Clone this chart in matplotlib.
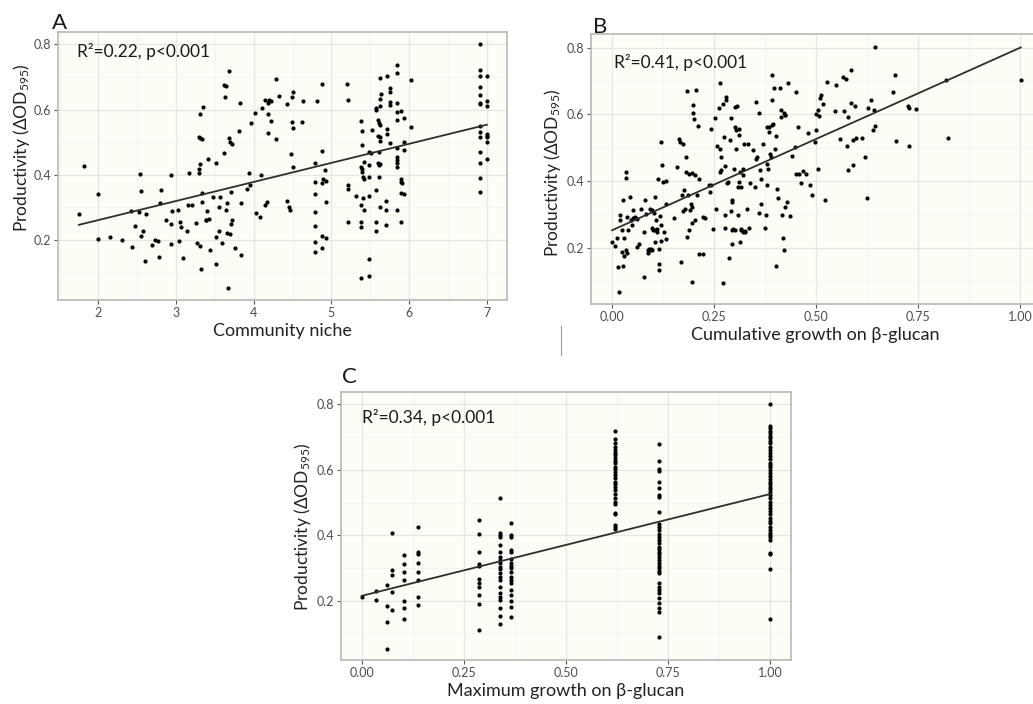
import matplotlib.pyplot as plt
from matplotlib.lines import Line2D
from matplotlib.ticker import MultipleLocator
import numpy as np

# ---- panel A: community niche vs productivity ----
niche_x = [1.75, 1.81, 2.0, 2.0, 2.15, 2.31, 2.43, 2.42, 2.47, 2.52, 2.54, 2.55, 2.55, 2.58, 2.6,
           2.61, 2.69, 2.73, 2.77, 2.78, 2.79, 2.81, 2.87, 2.93, 2.93, 2.94, 2.95, 3.03, 3.05, 3.04,
           3.06, 3.09, 3.14, 3.15, 3.17, 3.2, 3.26, 3.27, 3.29, 3.3, 3.31, 3.31, 3.3, 3.31, 3.33,
           3.35, 3.31, 3.32, 3.34, 3.34, 3.38, 3.39, 3.4, 3.42, 3.41, 3.44, 3.48, 3.51, 3.51, 3.51,
           3.55, 3.56, 3.55, 3.59, 3.62, 3.63, 3.62, 3.64, 3.64, 3.65, 3.66, 3.67, 3.68, 3.68, 3.69,
           3.7, 3.71, 3.71, 3.72, 3.72, 3.76, 3.81, 3.82, 3.83, 3.83, 3.91, 3.94, 3.95, 3.96, 4.01,
           4.03, 4.08, 4.1, 4.11, 4.15, 4.15, 4.17, 4.18, 4.18, 4.18, 4.2, 4.22, 4.22, 4.29, 4.29,
           4.33, 4.43, 4.43, 4.45, 4.47, 4.49, 4.5, 4.49, 4.5, 4.48, 4.5, 4.62, 4.64,
           4.79, 4.79, 4.79, 4.79, 4.79, 4.79, 4.79, 4.82, 4.88, 4.88, 4.88, 4.88, 4.88, 4.89,
           4.93, 4.93, 4.93, 4.92, 5.2, 5.21, 5.21, 5.21, 5.21, 5.31,
           5.38, 5.40, 5.40, 5.38, 5.39, 5.40, 5.41, 5.42, 5.42, 5.41, 5.38, 5.42, 5.38, 5.38,
           5.48, 5.48, 5.48, 5.49, 5.51, 5.48, 5.49, 5.38, 5.52, 5.58, 5.58, 5.60, 5.61, 5.62,
           5.63, 5.63, 5.64, 5.63, 5.60, 5.63, 5.62, 5.61, 5.60, 5.61, 5.63, 5.61, 5.58, 5.58,
           5.58, 5.62, 5.70, 5.70, 5.70, 5.71, 5.72, 5.72, 5.76, 5.76, 5.76, 5.76, 5.76,
           5.84, 5.84, 5.84, 5.85, 5.84, 5.85, 5.84, 5.84, 5.84, 5.84, 5.85, 5.89, 5.89, 5.90,
           5.91, 5.90, 5.93, 5.90, 5.93, 5.94, 5.94, 6.03, 6.03,
           6.91, 6.91, 6.91, 6.91, 6.91, 6.91, 6.91, 6.91, 6.91, 6.91, 6.91, 6.91, 6.91, 6.91,
           7.0, 7.0, 7.0, 7.0, 7.0, 7.0, 7.0, 7.0]
niche_y = [0.28, 0.427, 0.34, 0.202, 0.208, 0.2, 0.179, 0.288, 0.243, 0.285, 0.402, 0.351, 0.211, 0.226, 0.136,
           0.279, 0.184, 0.2, 0.198, 0.148, 0.312, 0.353, 0.261, 0.249, 0.187, 0.398, 0.288, 0.292, 0.254, 0.196,
           0.241, 0.144, 0.228, 0.308, 0.406, 0.306, 0.253, 0.19, 0.406, 0.418, 0.433, 0.585, 0.517, 0.513, 0.509,
           0.607, 0.18, 0.11, 0.344, 0.316, 0.262, 0.262, 0.29, 0.263, 0.447, 0.168, 0.331, 0.435, 0.209, 0.125,
           0.301, 0.332, 0.228, 0.19, 0.468, 0.64, 0.676, 0.672, 0.293, 0.22, 0.314, 0.053, 0.718, 0.512, 0.502,
           0.218, 0.248, 0.347, 0.495, 0.262, 0.176, 0.535, 0.619, 0.312, 0.154, 0.356, 0.406, 0.368, 0.559, 0.589,
           0.282, 0.27, 0.399, 0.606, 0.629, 0.308, 0.316, 0.585, 0.619, 0.527, 0.629, 0.565, 0.627, 0.509, 0.695,
           0.641, 0.616, 0.318, 0.3, 0.292, 0.64, 0.654, 0.563, 0.545, 0.464, 0.425, 0.563, 0.626,
           0.437, 0.378, 0.341, 0.287, 0.243, 0.193, 0.164, 0.626, 0.68, 0.473, 0.376, 0.212, 0.174, 0.386,
           0.38, 0.206, 0.316, 0.414, 0.68, 0.629, 0.369, 0.356, 0.254, 0.336,
           0.566, 0.535, 0.491, 0.425, 0.418, 0.409, 0.394, 0.387, 0.44, 0.330, 0.307, 0.292, 0.254, 0.241,
           0.430, 0.393, 0.334, 0.471, 0.466, 0.142, 0.089, 0.084, 0.538, 0.599, 0.604, 0.568, 0.560, 0.553,
           0.611, 0.634, 0.647, 0.696, 0.52, 0.517, 0.503, 0.471, 0.435, 0.43, 0.432, 0.394, 0.353, 0.254,
           0.227, 0.301, 0.292, 0.319, 0.247, 0.524, 0.541, 0.704, 0.667, 0.655, 0.624, 0.614, 0.498,
           0.737, 0.711, 0.621, 0.593, 0.568, 0.481, 0.455, 0.445, 0.435, 0.425, 0.292, 0.596, 0.379, 0.386,
           0.374, 0.345, 0.340, 0.254, 0.573, 0.501, 0.476, 0.691, 0.548,
           0.801, 0.72, 0.704, 0.668, 0.644, 0.621, 0.616, 0.551, 0.531, 0.517, 0.470, 0.437, 0.391, 0.346,
           0.704, 0.627, 0.611, 0.524, 0.520, 0.515, 0.501, 0.449]

# ---- panel B: cumulative growth on beta-glucan ----
cum_x = [0.0, 0.007, 0.011, 0.015, 0.016, 0.019, 0.019, 0.024, 0.025, 0.027, 0.028, 0.028, 0.027, 0.034,
         0.035, 0.035, 0.037, 0.037, 0.04, 0.045, 0.047, 0.049, 0.052, 0.052, 0.056, 0.06, 0.06, 0.065,
         0.072, 0.078, 0.078, 0.08, 0.084, 0.087, 0.088, 0.091, 0.092, 0.094, 0.096, 0.097, 0.098, 0.099,
         0.1, 0.103, 0.105, 0.105, 0.106, 0.107, 0.109, 0.11, 0.113, 0.115, 0.115, 0.115, 0.117, 0.119,
         0.12, 0.121, 0.122, 0.125, 0.127, 0.131, 0.133, 0.133, 0.152, 0.159, 0.164, 0.166, 0.168, 0.172,
         0.174, 0.174, 0.177, 0.178, 0.181, 0.182, 0.184, 0.184, 0.186, 0.188, 0.189, 0.191, 0.193, 0.195,
         0.195, 0.196, 0.197, 0.199, 0.199, 0.2, 0.203, 0.204, 0.206, 0.208, 0.21, 0.212, 0.214, 0.223,
         0.223, 0.229, 0.237, 0.24, 0.242, 0.243, 0.248, 0.252, 0.256, 0.258, 0.264, 0.264, 0.262, 0.264,
         0.266, 0.268, 0.271, 0.272, 0.274, 0.276, 0.277, 0.278, 0.279, 0.28, 0.282, 0.284, 0.287, 0.29,
         0.291, 0.291, 0.293, 0.293, 0.294, 0.295, 0.297, 0.299, 0.301, 0.301, 0.302, 0.303, 0.305, 0.307,
         0.309, 0.309, 0.31, 0.312, 0.312, 0.313, 0.313, 0.315, 0.316, 0.317, 0.32, 0.321, 0.322, 0.323,
         0.326, 0.327, 0.331, 0.334, 0.336, 0.338, 0.346, 0.35, 0.352, 0.354, 0.356, 0.36, 0.361, 0.362,
         0.364, 0.365, 0.369, 0.375, 0.377, 0.379, 0.381, 0.381, 0.383, 0.385, 0.385, 0.387, 0.389, 0.391,
         0.391, 0.392, 0.395, 0.397, 0.399, 0.401, 0.401, 0.405, 0.407, 0.411, 0.413, 0.414, 0.416, 0.418,
         0.421, 0.422, 0.424, 0.424, 0.425, 0.428, 0.432, 0.436, 0.442, 0.448, 0.452, 0.452, 0.456, 0.459,
         0.464, 0.469, 0.475, 0.481, 0.485, 0.489, 0.497, 0.5, 0.5, 0.504, 0.506, 0.508, 0.511, 0.513,
         0.518, 0.522, 0.526, 0.546, 0.548, 0.56, 0.567, 0.568, 0.573, 0.576, 0.579, 0.579, 0.585, 0.587,
         0.59, 0.591, 0.595, 0.598, 0.612, 0.619, 0.624, 0.628, 0.636, 0.639, 0.642, 0.644, 0.644, 0.689,
         0.693, 0.695, 0.726, 0.728, 0.728, 0.744, 0.818, 0.823, 1.002]
cum_y = [0.217, 0.204, 0.23, 0.142, 0.065, 0.282, 0.297, 0.252, 0.187, 0.342, 0.23, 0.174, 0.145, 0.192,
         0.427, 0.409, 0.292, 0.184, 0.252, 0.351, 0.284, 0.267, 0.314, 0.288, 0.292, 0.286, 0.202, 0.212,
         0.317, 0.112, 0.247, 0.344, 0.302, 0.194, 0.185, 0.196, 0.316, 0.192, 0.196, 0.259, 0.313, 0.194,
         0.254, 0.304, 0.351, 0.254, 0.217, 0.282, 0.257, 0.247, 0.405, 0.196, 0.152, 0.132, 0.294, 0.517,
         0.22, 0.267, 0.447, 0.397, 0.247, 0.4, 0.33, 0.225, 0.29, 0.442, 0.527, 0.517, 0.157, 0.357,
         0.512, 0.31, 0.372, 0.317, 0.472, 0.427, 0.671, 0.232, 0.357, 0.422, 0.254, 0.314, 0.332, 0.096,
         0.424, 0.274, 0.322, 0.605, 0.628, 0.586, 0.284, 0.417, 0.673, 0.357, 0.565, 0.407, 0.18, 0.182,
         0.292, 0.29, 0.387, 0.367, 0.557, 0.387, 0.257, 0.59, 0.317, 0.505, 0.693, 0.497, 0.618, 0.427,
         0.472, 0.432, 0.63, 0.092, 0.532, 0.259, 0.445, 0.297, 0.643, 0.653, 0.394, 0.397, 0.17, 0.522,
         0.588, 0.31, 0.344, 0.337, 0.212, 0.252, 0.257, 0.435, 0.562, 0.623, 0.254, 0.495, 0.552, 0.625,
         0.297, 0.382, 0.557, 0.537, 0.397, 0.217, 0.427, 0.252, 0.382, 0.257, 0.437, 0.417, 0.247, 0.512,
         0.25, 0.247, 0.317, 0.51, 0.259, 0.394, 0.492, 0.382, 0.467, 0.638, 0.472, 0.603, 0.304, 0.432,
         0.332, 0.405, 0.512, 0.259, 0.299, 0.452, 0.387, 0.562, 0.437, 0.547, 0.562, 0.482, 0.472, 0.718,
         0.643, 0.567, 0.572, 0.68, 0.497, 0.534, 0.144, 0.375, 0.35, 0.68, 0.612, 0.593, 0.297, 0.23,
         0.194, 0.604, 0.598, 0.322, 0.598, 0.337, 0.695, 0.294, 0.475, 0.502, 0.668, 0.42, 0.562, 0.422,
         0.394, 0.43, 0.42, 0.545, 0.389, 0.357, 0.517, 0.552, 0.6, 0.612, 0.437, 0.595, 0.648, 0.658,
         0.63, 0.344, 0.698, 0.61, 0.688, 0.525, 0.711, 0.61, 0.706, 0.505, 0.592, 0.432, 0.633, 0.733,
         0.447, 0.522, 0.625, 0.53, 0.53, 0.472, 0.35, 0.618, 0.643, 0.552, 0.612, 0.801, 0.566, 0.668,
         0.718, 0.52, 0.625, 0.62, 0.504, 0.615, 0.703, 0.529, 0.703]

# ---- panel C: maximum growth on beta-glucan (discrete levels) ----
max_levels = [0.0, 0.034, 0.061, 0.073, 0.104, 0.137, 0.288, 0.339, 0.366, 0.619, 0.727, 1.0]
max_y = [
    [0.212],
    [0.23, 0.203],
    [0.248, 0.184, 0.136, 0.053],
    [0.408, 0.294, 0.279, 0.227, 0.172],
    [0.34, 0.311, 0.289, 0.263, 0.2, 0.179, 0.143],
    [0.426, 0.35, 0.343, 0.314, 0.289, 0.263, 0.21, 0.186],
    [0.447, 0.404, 0.348, 0.312, 0.307, 0.265, 0.253, 0.241, 0.218, 0.189, 0.11],
    [0.515, 0.408, 0.401, 0.396, 0.370, 0.350, 0.333, 0.324, 0.314, 0.304, 0.296, 0.286, 0.274,
     0.263, 0.243, 0.223, 0.212, 0.202, 0.177, 0.153, 0.128],
    [0.436, 0.401, 0.396, 0.355, 0.350, 0.326, 0.316, 0.306, 0.299, 0.289, 0.274, 0.263, 0.253,
     0.233, 0.218, 0.200, 0.182, 0.149],
    [0.720, 0.693, 0.683, 0.671, 0.660, 0.652, 0.644, 0.635, 0.627, 0.620, 0.610, 0.601, 0.592,
     0.584, 0.574, 0.564, 0.556, 0.546, 0.538, 0.526, 0.513, 0.503, 0.496, 0.467, 0.464, 0.431,
     0.426, 0.418],
    [0.679, 0.628, 0.602, 0.597, 0.564, 0.545, 0.523, 0.518, 0.472, 0.434, 0.426, 0.416, 0.403,
     0.396, 0.386, 0.375, 0.365, 0.357, 0.350, 0.342, 0.335, 0.324, 0.316, 0.306, 0.299, 0.292,
     0.286, 0.253, 0.243, 0.233, 0.223, 0.207, 0.192, 0.177, 0.167, 0.090],
    [0.801, 0.734, 0.727, 0.720, 0.711, 0.703, 0.696, 0.689, 0.681, 0.671, 0.660, 0.650, 0.642,
     0.633, 0.622, 0.615, 0.608, 0.599, 0.591, 0.581, 0.571, 0.564, 0.556, 0.548, 0.540, 0.533,
     0.523, 0.513, 0.503, 0.492, 0.482, 0.474, 0.464, 0.454, 0.445, 0.436, 0.426, 0.416, 0.408,
     0.401, 0.396, 0.386, 0.347, 0.343, 0.296, 0.143],
]
maxg_x = [lvl for lvl, ys in zip(max_levels, max_y) for _ in ys]
maxg_y = [y for ys in max_y for y in ys]

# linear fits (intercept, slope) and reported statistics
fit_a = (0.144, 0.0585)
fit_b = (0.252, 0.548)
fit_c = (0.215, 0.311)
stats_a = "R\u00b2=0.22, p<0.001"
stats_b = "R\u00b2=0.41, p<0.001"
stats_c = "R\u00b2=0.34, p<0.001"

plt.rcParams['font.family'] = ['Lato', 'DejaVu Sans']
plt.rcParams['mathtext.fontset'] = 'custom'
plt.rcParams['mathtext.rm'] = 'Lato'
plt.rcParams['mathtext.it'] = 'Lato:italic'

YLABEL = "Productivity (\u0394OD$_{595}$)"


def panel(fig, rect, x, y, fit, stats, letter, xlabel, xlim, ylim, xticks, xticklabels,
          stats_pos, letter_pos, ylabel_pos):
    ax = fig.add_axes(rect)
    ax.set_facecolor('#fdfdf5')
    ax.set_axisbelow(True)
    ax.set_xlim(*xlim)
    ax.set_ylim(*ylim)
    ax.set_xticks(xticks)
    ax.set_xticklabels(xticklabels)
    ax.set_yticks([0.2, 0.4, 0.6, 0.8])
    ax.set_yticklabels(["0.2", "0.4", "0.6", "0.8"])
    step = xticks[1] - xticks[0]
    ax.xaxis.set_minor_locator(MultipleLocator(step / 2))
    ax.yaxis.set_minor_locator(MultipleLocator(0.1))
    ax.grid(which='major', color='#e6e6e3', lw=0.9)
    ax.grid(which='minor', color='#f2f2ee', lw=0.6)
    ax.tick_params(which='major', length=3, width=0.8, color='#555555',
                   labelsize=9, labelcolor='#4d4d4d', pad=2)
    ax.tick_params(which='minor', length=0)
    for s in ax.spines.values():
        s.set_color('#b8b8b8')
        s.set_linewidth(1.2)

    ax.scatter(x, y, s=9, color='black', linewidths=0, zorder=3)
    xs = np.array([min(x), max(x)])
    ax.plot(xs, fit[0] + fit[1] * xs, color='#2e2e2e', lw=1.3, zorder=4)

    ax.text(stats_pos[0], stats_pos[1], stats, transform=ax.transAxes, fontsize=12.5,
            color='#1a1a1a', va='center', ha='left')
    ax.text(letter_pos[0], letter_pos[1], letter, transform=ax.transAxes, fontsize=16,
            color='#1a1a1a', va='baseline', ha='left')
    ax.set_xlabel(xlabel, fontsize=13, color='#222222', labelpad=3)
    ax.set_ylabel(YLABEL, fontsize=12.5, color='#222222')
    ax.yaxis.set_label_coords(ylabel_pos[0], ylabel_pos[1])
    return ax


fig = plt.figure(figsize=(10.33, 7.04), dpi=100)

panel(fig, [0.0561, 0.574, 0.4347, 0.3805], niche_x, niche_y, fit_a, stats_a, "A",
      "Community niche", (1.48, 7.26), (0.016, 0.838),
      [2, 3, 4, 5, 6, 7], ["2", "3", "4", "5", "6", "7"],
      (0.042, 0.929), (-0.013, 1.011), (-0.058, 0.569))

bc_ticks = [0.0, 0.25, 0.5, 0.75, 1.0]
bc_labels = ["0.00", "0.25", "0.50", "0.75", "1.00"]
panel(fig, [0.572, 0.568, 0.4347, 0.383], cum_x, cum_y, fit_b, stats_b, "B",
      "Cumulative growth on \u03b2-glucan", (-0.052, 1.049), (0.03, 0.84),
      bc_ticks, bc_labels,
      (0.051, 0.896), (0.004, 1.007), (-0.062, 0.487))

panel(fig, [0.330, 0.0625, 0.4357, 0.3811], maxg_x, maxg_y, fit_c, stats_c, "C",
      "Maximum growth on \u03b2-glucan", (-0.051, 1.051), (0.019, 0.8385),
      bc_ticks, bc_labels,
      (0.047, 0.903), (0.002, 1.032), (-0.062, 0.498))

# thin separator stroke between the top panels
fig.add_artist(Line2D([561 / 1033, 561 / 1033], [1 - 326 / 704, 1 - 355 / 704],
                      color='#9a9a9a', lw=0.8))

fig.savefig("out.png", dpi=100, facecolor='white')
